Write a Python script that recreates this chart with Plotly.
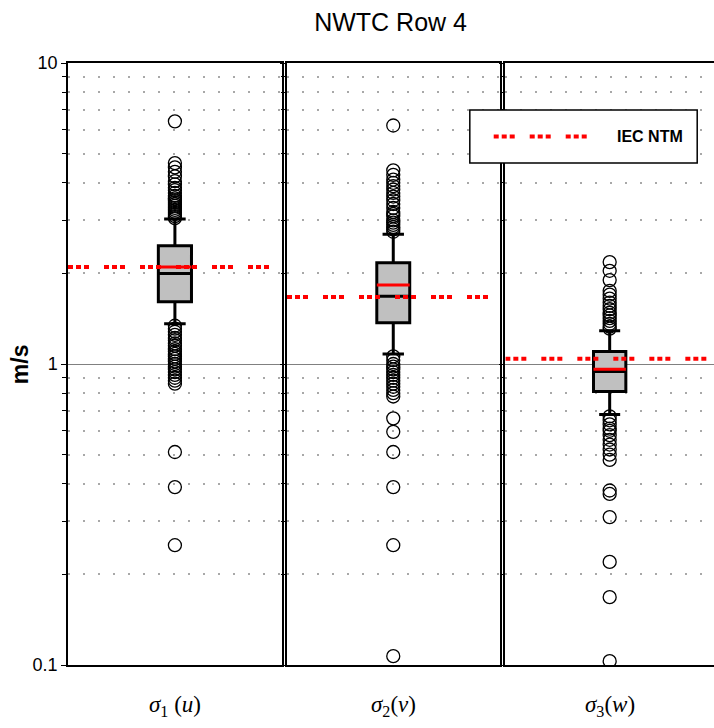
import plotly.graph_objects as go

# ---------------- data ----------------
components = ["u", "v", "w"]
x_labels = ["<i>σ</i><sub>1</sub> (<i>u</i>)", "<i>σ</i><sub>2</sub>(<i>v</i>)", "<i>σ</i><sub>3</sub>(<i>w</i>)"]

q1 = [1.61, 1.37, 0.81]
median = [2.00, 1.68, 0.945]
q3 = [2.47, 2.17, 1.10]
lower_fence = [1.36, 1.08, 0.68]
upper_fence = [3.03, 2.70, 1.29]
mean = [2.10, 1.83, 0.96]
iec_ntm = [2.10, 1.67, 1.04]

outliers_u = [6.4, 4.65, 4.5, 4.35, 4.2, 4.05, 3.95, 3.85, 3.78, 3.7, 3.62, 3.55, 3.5,
              3.45, 3.4, 3.35, 3.3, 3.25, 3.2, 3.15, 3.1, 3.05,
              1.34, 1.31, 1.28, 1.25, 1.22, 1.2, 1.17, 1.15, 1.12, 1.1, 1.08, 1.06,
              1.04, 1.02, 1.0, 0.98, 0.96, 0.94, 0.92, 0.9, 0.88, 0.86,
              0.51, 0.39, 0.25]
outliers_v = [6.2, 4.4, 4.25, 4.1, 4.0, 3.9, 3.8, 3.7, 3.6, 3.5, 3.4, 3.3, 3.2, 3.15,
              3.1, 3.0, 2.95, 2.9, 2.85, 2.8, 2.75,
              1.06, 1.03, 1.0, 0.98, 0.96, 0.94, 0.92, 0.9, 0.88, 0.86, 0.84, 0.82,
              0.8, 0.78, 0.66, 0.595, 0.51, 0.39, 0.25, 0.107]
outliers_w = [2.18, 2.04, 1.9, 1.75, 1.7, 1.65, 1.6, 1.56, 1.52, 1.48, 1.45, 1.42,
              1.39, 1.36, 1.33, 1.31,
              0.67, 0.65, 0.63, 0.61, 0.6, 0.58, 0.56, 0.54, 0.52, 0.5, 0.48,
              0.38, 0.37, 0.31, 0.22, 0.168, 0.103]
outliers = [outliers_u, outliers_v, outliers_w]

y_tickvals = [0.1, 1, 10]
y_ticktext = ["0.1", "1", "10"]
minor_vals = [0.2, 0.3, 0.4, 0.5, 0.6, 0.7, 0.8, 0.9, 2, 3, 4, 5, 6, 7, 8, 9]

# ---------------- style ----------------
BOX_W = 0.31
RED = "#ff0000"
DASH = "5px,3px,5px,3px,5px,15px"
domains = [[0.0, 0.331], [0.339, 0.668], [0.677, 1.0]]

fig = go.Figure()

for i in range(3):
    xa = "x" if i == 0 else f"x{i+1}"
    ya = "y" if i == 0 else f"y{i+1}"
    fig.add_trace(go.Box(
        x=[0], q1=[q1[i]], median=[median[i]], q3=[q3[i]],
        lowerfence=[lower_fence[i]], upperfence=[upper_fence[i]],
        boxpoints=False, width=BOX_W, whiskerwidth=0.65,
        fillcolor="#c0c0c0", line=dict(color="black", width=3),
        xaxis=xa, yaxis=ya, showlegend=False, hoverinfo="skip"))
    fig.add_trace(go.Scatter(
        x=[0] * len(outliers[i]), y=outliers[i], mode="markers",
        marker=dict(symbol="circle-open", size=13, color="black", line=dict(width=1.3)),
        xaxis=xa, yaxis=ya, showlegend=False))
    fig.add_trace(go.Scatter(
        x=[-BOX_W / 2, BOX_W / 2], y=[mean[i], mean[i]], mode="lines",
        line=dict(color=RED, width=3), xaxis=xa, yaxis=ya, showlegend=False))
    fig.add_trace(go.Scatter(
        x=[-1, 1], y=[iec_ntm[i], iec_ntm[i]], mode="lines",
        line=dict(color=RED, width=4, dash=DASH), xaxis=xa, yaxis=ya, showlegend=False))

    fig.add_annotation(x=0, xref=xa, y=-0.068, yref="paper", text=x_labels[i],
                       showarrow=False, yanchor="middle",
                       font=dict(family="Liberation Serif", size=23, color="black"))

    xkey = "xaxis" if i == 0 else f"xaxis{i+1}"
    ykey = "yaxis" if i == 0 else f"yaxis{i+1}"
    fig.layout[xkey] = dict(domain=domains[i], range=[-1, 1], showticklabels=False,
                            showgrid=False, zeroline=False, showline=True, mirror=True,
                            linecolor="black", linewidth=1.5, ticks="", anchor=ya)
    fig.layout[ykey] = dict(type="log", range=[-1, 1], anchor=xa,
                            tickvals=y_tickvals, ticktext=y_ticktext,
                            showticklabels=(i == 0), ticks="outside", ticklen=5,
                            tickcolor="black", showline=True, mirror=(i < 2),
                            linecolor="black", linewidth=1.5,
                            showgrid=True, gridcolor="#808080", gridwidth=1,
                            zeroline=False,
                            tickfont=dict(family="Liberation Sans", size=18, color="black"),
                            minor=dict(tickmode="array", tickvals=minor_vals,
                                       ticks="outside", ticklen=4, tickcolor="black",
                                       showgrid=True, gridcolor="#a8a8a8",
                                       griddash="2px,13px", gridwidth=1.5))
    if i > 0:
        fig.layout[ykey]["matches"] = "y"

# legend box (drawn)
fig.add_shape(type="rect", xref="paper", yref="paper", x0=0.622, x1=0.974, y0=0.834, y1=0.922,
              fillcolor="white", line=dict(color="black", width=1.5), layer="above")
fig.add_shape(type="line", xref="paper", yref="paper", x0=0.659, x1=0.803, y0=0.878, y1=0.878,
              line=dict(color=RED, width=4, dash=DASH), layer="above")
fig.add_annotation(x=0.955, y=0.878, xref="paper", yref="paper", text="<b>IEC NTM</b>",
                   showarrow=False, xanchor="right", yanchor="middle",
                   font=dict(family="Liberation Sans", size=16, color="black"))

# y axis title
fig.add_annotation(x=-0.074, y=0.5, xref="paper", yref="paper", text="<b>m/s</b>",
                   showarrow=False, textangle=-90, xanchor="center", yanchor="middle",
                   font=dict(family="Liberation Sans", size=23, color="black"))

fig.update_layout(
    width=714, height=728,
    margin=dict(l=68, r=0, t=63, b=63),
    paper_bgcolor="white", plot_bgcolor="white",
    title=dict(text="NWTC Row 4", x=0.547, xanchor="center", y=1 - 22 / 728,
               yanchor="middle", yref="container",
               font=dict(family="Liberation Sans", size=25, color="black")),
    showlegend=False,
)

fig.write_html("out.html")
